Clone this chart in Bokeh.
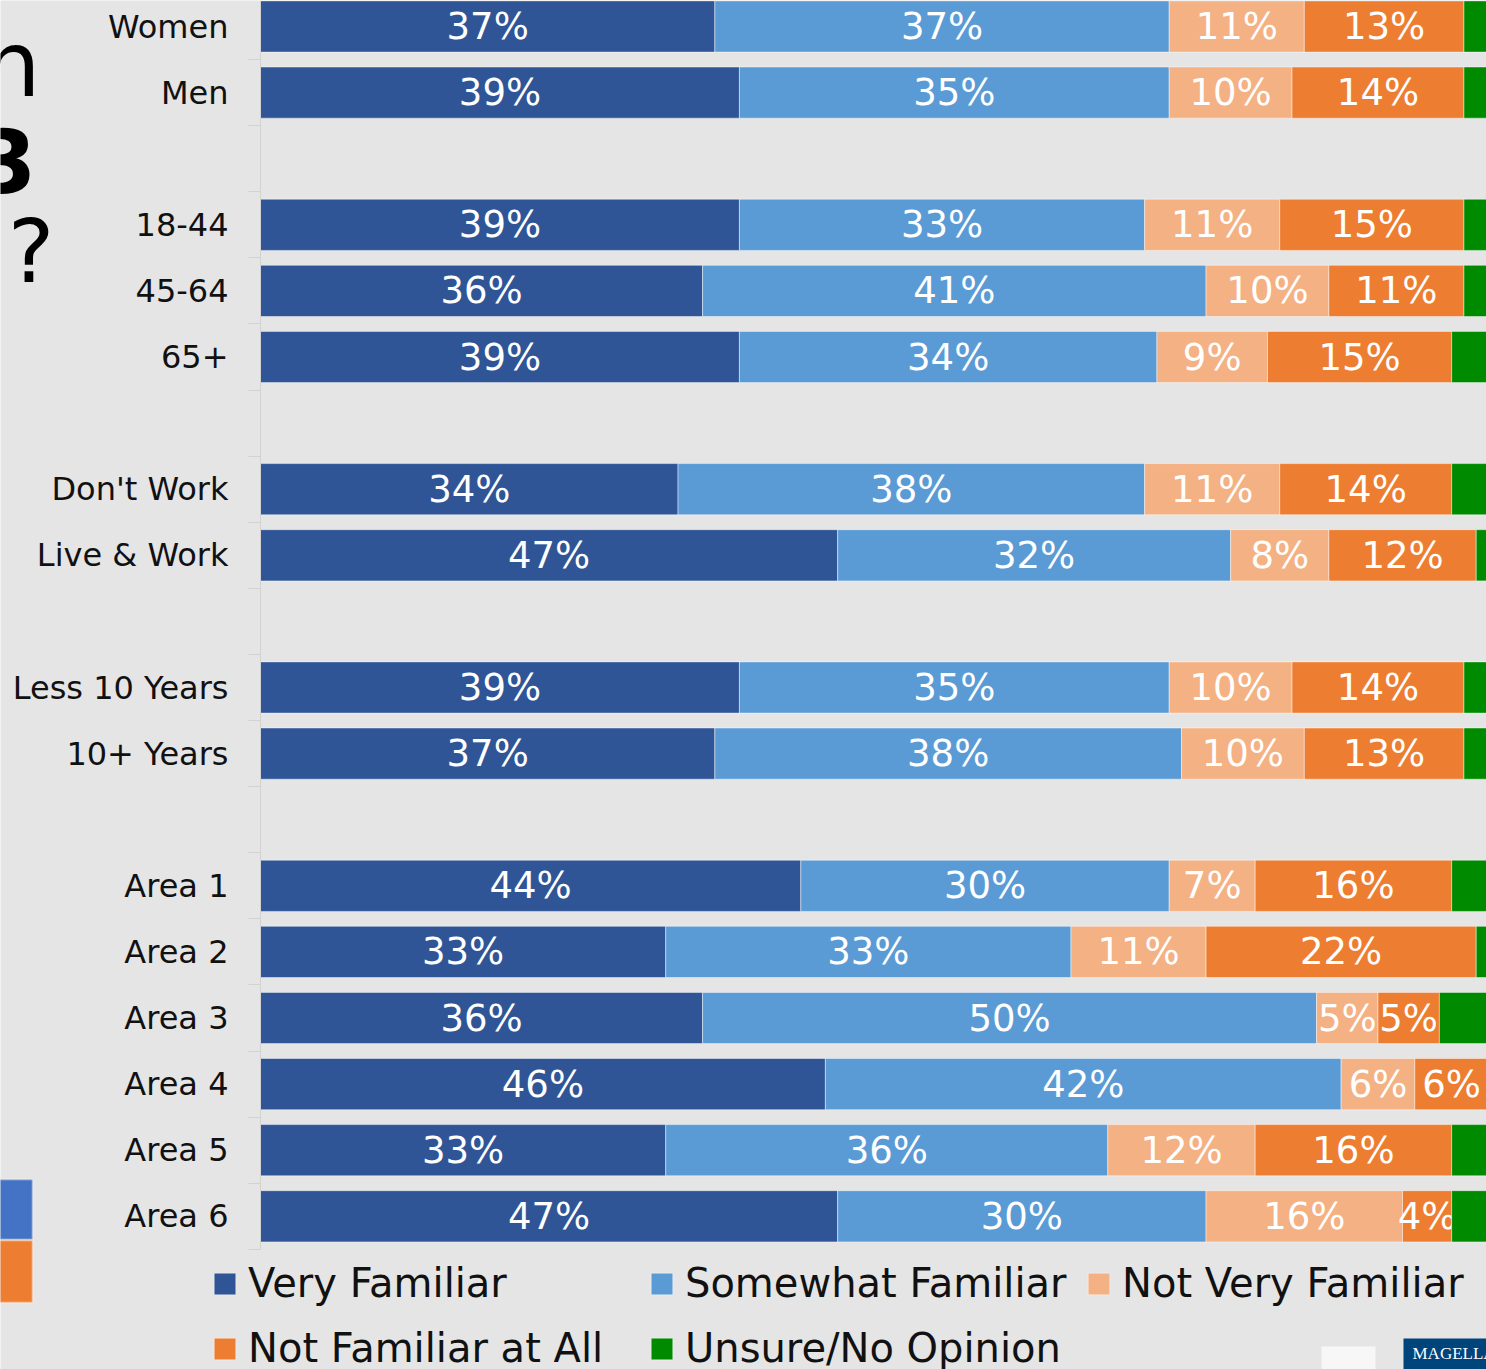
from bokeh.plotting import figure
from bokeh.models import ColumnDataSource, Range1d, FixedTicker, Legend, LegendItem, BoxAnnotation, Label
from bokeh.core.properties import value
from bokeh.embed import file_html
from bokeh.resources import INLINE

# ---- data ----
categories = ["Women", "Men", "", "18-44", "45-64", "65+", "",
              "Don't Work", "Live & Work", "", "Less 10 Years", "10+ Years", "",
              "Area 1", "Area 2", "Area 3", "Area 4", "Area 5", "Area 6"]
very_familiar     = [37, 39, None, 39, 36, 39, None, 34, 47, None, 39, 37, None, 44, 33, 36, 46, 33, 47]
somewhat_familiar = [37, 35, None, 33, 41, 34, None, 38, 32, None, 35, 38, None, 30, 33, 50, 42, 36, 30]
not_very_familiar = [11, 10, None, 11, 10,  9, None, 11,  8, None, 10, 10, None,  7, 11,  5,  6, 12, 16]
not_familiar_all  = [13, 14, None, 15, 11, 15, None, 14, 12, None, 14, 13, None, 16, 22,  5,  6, 16,  4]
unsure            = [ 2,  2, None,  2,  2,  3, None,  3,  1, None,  2,  2, None,  3,  1,  4,  0,  3,  3]

series_names = ["Very Familiar", "Somewhat Familiar", "Not Very Familiar",
                "Not Familiar at All", "Unsure/No Opinion"]
series_values = [very_familiar, somewhat_familiar, not_very_familiar, not_familiar_all, unsure]
colors = ["#2F5597", "#5B9BD5", "#F4B183", "#ED7D31", "#008A00"]

BG = "#e5e5e5"
FONT = "DejaVu Sans"

W, H = 1486, 1369
PX_PER_PCT = 12.28      # horizontal scale
PX_PER_ROW = 66.1       # vertical scale
AXIS_X = 260            # where 0 % sits
FIRST_ROW_Y = 26        # centre of first row

rows = [i for i, c in enumerate(categories) if c]

x0 = -AXIS_X / PX_PER_PCT
x1 = (W - AXIS_X) / PX_PER_PCT
ytop = -FIRST_ROW_Y / PX_PER_ROW
ybot = ytop + H / PX_PER_ROW

p = figure(width=W, height=H, output_backend="svg", toolbar_location=None,
           x_range=Range1d(x0, x1), y_range=Range1d(ybot, ytop),
           min_border_left=0, min_border_right=0, min_border_top=0, min_border_bottom=0,
           x_axis_location=None)
p.background_fill_color = BG
p.border_fill_color = BG
p.outline_line_color = None
p.xgrid.visible = False
p.ygrid.visible = False

legend_items = []
for k, (name, vals, col) in enumerate(zip(series_names, series_values, colors)):
    lefts, rights, ys, labels, mids = [], [], [], [], []
    for i in rows:
        start = sum(series_values[j][i] for j in range(k))
        lefts.append(start)
        rights.append(start + vals[i])
        mids.append(start + vals[i] / 2)
        ys.append(i)
        labels.append(f"{vals[i]}%")
    src = ColumnDataSource(dict(y=ys, left=lefts, right=rights, mid=mids, label=labels))
    r = p.hbar(y="y", left="left", right="right", height=0.775, source=src,
               fill_color=col, line_color="#ffffff", line_alpha=0.45, line_width=1)
    legend_items.append(LegendItem(label=name, renderers=[r]))
    if k < 4:
        p.text(x="mid", y="y", text="label", source=src, text_align="center",
               text_baseline="middle", text_color="white",
               text_font=value(FONT), text_font_size="37px")

# ---- y axis (categories), pinned at 0 % ----
ax = p.yaxis[0]
ax.fixed_location = 0
ax.ticker = FixedTicker(ticks=rows, minor_ticks=[i - 0.5 for i in range(len(categories) + 1)])
ax.major_label_overrides = {i: categories[i] for i in rows}
ax.bounds = (-0.5, len(categories) - 0.5)
ax.axis_line_color = "#d2d2d2"
ax.major_tick_out = 0
ax.major_tick_in = 0
ax.minor_tick_out = 12
ax.minor_tick_in = 0
ax.minor_tick_line_color = "#d2d2d2"
ax.major_label_standoff = 20
ax.major_label_text_font = FONT
ax.major_label_text_font_size = "32px"
ax.major_label_text_color = "#111111"

# ---- legend ----
legend = Legend(items=legend_items, orientation="horizontal", ncols=3,
                location=(211, -11.5), padding=0, margin=0, spacing=0,
                glyph_width=27, glyph_height=27, label_standoff=10,
                label_width=400, label_height=65,
                label_text_font=FONT, label_text_font_size="40px",
                label_text_color="#111111",
                background_fill_alpha=0, border_line_color=None)
p.add_layout(legend, "center")

# ---- slide fragments around the chart (decoration) ----
def px(x):
    return (x - AXIS_X) / PX_PER_PCT

def py(y):
    return ytop + y / PX_PER_ROW

p.add_layout(BoxAnnotation(left=px(-5), right=px(32), top=py(1179), bottom=py(1239),
                           fill_color="#4472C4", fill_alpha=1, line_color="white", line_width=2))
p.add_layout(BoxAnnotation(left=px(-5), right=px(32), top=py(1240), bottom=py(1302),
                           fill_color="#ED7D31", fill_alpha=1, line_color="white", line_width=2))
p.add_layout(BoxAnnotation(left=px(1321), right=px(1375), top=py(1346), bottom=py(1375),
                           fill_color="#f7f7f7", fill_alpha=1, line_color=None))
p.add_layout(BoxAnnotation(left=px(1403), right=px(1490), top=py(1338), bottom=py(1375),
                           fill_color="#00447c", fill_alpha=1, line_color=None))
p.add_layout(Label(x=px(1412), y=py(1362), text="MAGELLAN", text_color="white",
                   text_font="Liberation Serif", text_font_size="17px"))

# title fragments at the left edge of the slide
p.add_layout(Label(x=px(40), y=py(116), text="n", text_color="black", text_align="right",
                   text_font=FONT, text_font_size="90px"))
p.add_layout(Label(x=px(36), y=py(192), text="3", text_color="black", text_align="right",
                   text_font=FONT, text_font_size="88px", text_font_style="bold"))
p.add_layout(Label(x=px(54), y=py(302), text="?", text_color="black", text_align="right",
                   text_font=FONT, text_font_size="88px"))

open("out.html", "w").write(file_html(p, INLINE))
